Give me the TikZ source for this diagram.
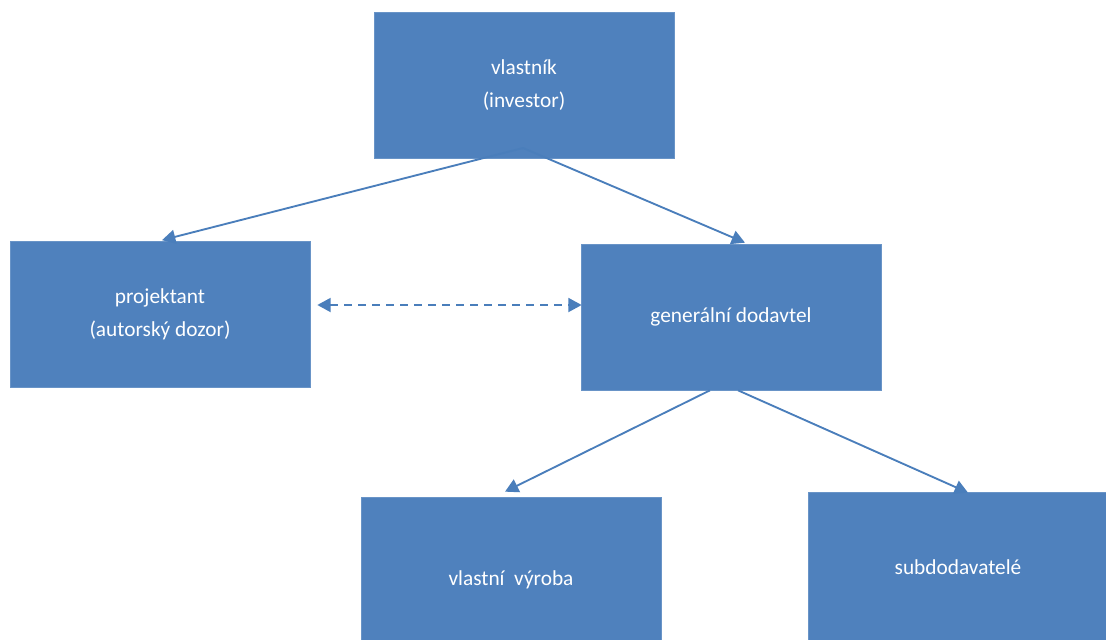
\documentclass[tikz,border=0pt]{standalone}
\usepackage{fontspec}
\setmainfont{Carlito}
\usetikzlibrary{arrows.meta,calc}
\definecolor{boxblue}{HTML}{4F81BD}
\definecolor{lineblue}{HTML}{4A7EBB}
\begin{document}
\begin{tikzpicture}[x=0.75pt,y=-0.75pt,
  box/.style={rectangle, fill=boxblue, draw=boxblue!85!white, line width=0.5pt,
    text=white, minimum width=225pt, minimum height=109.5pt, inner sep=0pt,
    align=center, font=\fontsize{16pt}{24.5pt}\selectfont},
  link/.style={lineblue, line width=1.4pt, -{Triangle[length=10pt,width=10.5pt]}},
  peer/.style={lineblue, line width=1.4pt, dash pattern=on 6pt off 4.5pt,
    {Triangle[length=10pt,width=10.5pt]}-{Triangle[length=10pt,width=10.5pt]}}]
\useasboundingbox (0,0) rectangle (1106,639);
\clip (0,0) rectangle (1106,639);

% organisation boxes
\node[box] (own) at (524,85) {vlastník\\(investor)};
\node[box] (proj) at (160,314.5) {projektant\\(autorský dozor)};
\node[box] (gen) at (731,317) {generální dodavtel};
\node[box, minimum height=124.5pt] (vyr) at (511,580) {vlastní\ \ výroba};
\node[box, minimum height=112.5pt] (sub) at (958,567) {subdodavatelé};

% owner to designer and main contractor
\coordinate (o1) at (523,148);
\draw[link] (o1) -- ($(proj.north)+(2,-1)$);
\draw[link] (o1) -- ($(gen.north)+(14,-1)$);

% main contractor to own production and subcontractors
\draw[link] ($(gen.south)+(-21,0)$) -- ($(vyr.north)+(-6,-5)$);
\draw[link] ($(gen.south)+(7,0)$) -- ($(sub.north)+(10,1)$);

% coordination between designer and main contractor
\draw[peer] ($(proj.east)+(7,-9.5)$) -- ($(gen.west)+(1,-12)$);
\end{tikzpicture}
\end{document}
